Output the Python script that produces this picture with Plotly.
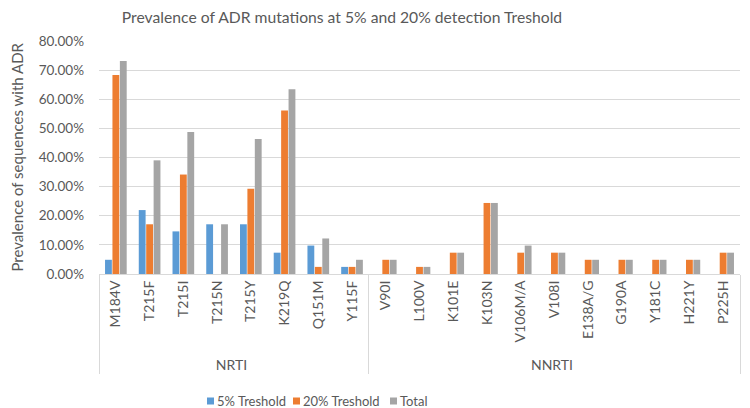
import plotly.graph_objects as go

groups = ["NRTI"] * 8 + ["NNRTI"] * 11
mutations = ["M184V", "T215F", "T215I", "T215N", "T215Y", "K219Q", "Q151M", "Y115F",
             "V90I", "L100V", "K101E", "K103N", "V106M/A", "V108I", "E138A/G", "G190A",
             "Y181C", "H221Y", "P225H"]
thr5 = [0.0488, 0.2195, 0.1463, 0.1707, 0.1707, 0.0732, 0.0976, 0.0244,
        0, 0, 0, 0, 0, 0, 0, 0, 0, 0, 0]
thr20 = [0.6829, 0.1707, 0.3415, 0, 0.2927, 0.5610, 0.0244, 0.0244,
         0.0488, 0.0244, 0.0732, 0.2439, 0.0732, 0.0732, 0.0488, 0.0488, 0.0488, 0.0488, 0.0732]
total = [0.7317, 0.3902, 0.4878, 0.1707, 0.4634, 0.6341, 0.1220, 0.0488,
         0.0488, 0.0244, 0.0732, 0.2439, 0.0976, 0.0732, 0.0488, 0.0488, 0.0488, 0.0488, 0.0732]
series_names = ["5% Treshold", "20% Treshold", "Total"]
colors = ["#5B9BD5", "#ED7D31", "#A5A5A5"]

# page body has an 8px default margin, so the figure is sized to fit the window
W, H = 742, 400
ML, MR, MT, MB = 91, 10, 33, 134
PW, PH = W - ML - MR, H - MT - MB

x = [groups, mutations]
fig = go.Figure()
for name, vals, c in zip(series_names, [thr5, thr20, total], colors):
    fig.add_trace(go.Bar(x=x, y=vals, name=name, marker_color=c, marker_line_width=0,
                         showlegend=False))

font = "Lato, Open Sans, sans-serif"
grey = "#595959"

# custom legend (small squares close to text, like the original)
legend_left_px = [199, 285, 382]
legend_y_px = 393
for name, c, lx in zip(series_names, colors, legend_left_px):
    yc = (H - MB - legend_y_px) / PH
    dy = 3.5 / PH
    fig.add_shape(type="rect", xref="paper", yref="paper",
                  x0=(lx - ML) / PW, x1=(lx + 7 - ML) / PW,
                  y0=yc - dy, y1=yc + dy, fillcolor=c, line_width=0)
    fig.add_annotation(xref="paper", yref="paper", x=(lx + 8 - ML) / PW, y=yc,
                       xanchor="left", yanchor="middle", text=name, showarrow=False,
                       font=dict(size=13, color=grey, family=font))

# y axis title
fig.add_annotation(xref="paper", yref="paper", x=(-2 - ML) / PW, y=0.5,
                   xanchor="left", yanchor="middle", textangle=-90, showarrow=False,
                   borderpad=0,
                   text="Prevalence of sequences with ADR",
                   font=dict(size=15, color=grey, family=font))

fig.update_layout(
    width=W, height=H,
    margin=dict(l=ML, r=MR, t=MT, b=MB, autoexpand=False),
    paper_bgcolor="white", plot_bgcolor="white",
    barmode="group", bargap=0.34, bargroupgap=0.08,
    font=dict(family=font, color=grey, size=14),
    title=dict(text="Prevalence of ADR mutations at 5% and 20% detection Treshold",
               x=334 / W, xanchor="center", y=1, yanchor="top", pad=dict(t=4),
               font=dict(size=15.7, color=grey, family=font)),
    showlegend=False,
    yaxis=dict(range=[0, 0.8], dtick=0.1, tickformat=".2%", gridcolor="#D9D9D9",
               zeroline=False, showline=False, ticks="", ticklabelstandoff=14,
               automargin=False,
               tickfont=dict(size=13.5, color=grey)),
    xaxis=dict(type="multicategory", tickangle=-90, showline=True, linecolor="#D9D9D9",
               showdividers=True, dividercolor="#D9D9D9", dividerwidth=1,
               automargin=False,
               tickfont=dict(size=14, color=grey), ticks=""),
)
fig.write_html("out.html")
